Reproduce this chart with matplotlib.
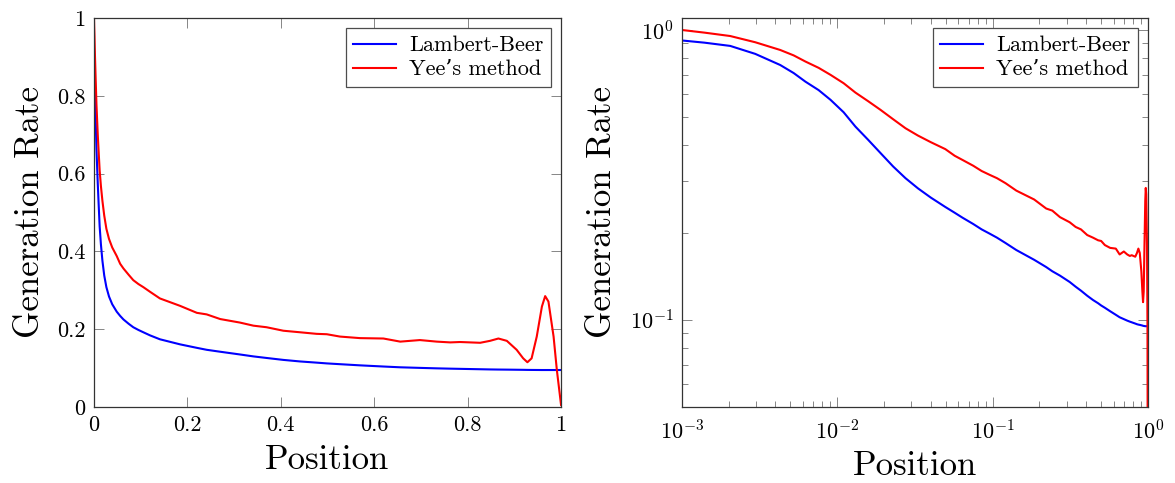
import numpy as np
import matplotlib
matplotlib.use("Agg")
import matplotlib.pyplot as plt
from matplotlib.ticker import LogLocator, NullFormatter, FixedLocator

plt.rcParams["font.family"] = ["cmr10", "DejaVu Serif"]
plt.rcParams["mathtext.fontset"] = "cm"
plt.rcParams["axes.formatter.use_mathtext"] = True

# generation rate profiles along the normalised position
position = [
    0.001, 0.0014, 0.00205, 0.00297, 0.0043, 0.00525, 0.00625, 0.0076,
    0.00906, 0.011, 0.0131, 0.0158, 0.019, 0.0229, 0.0275, 0.0331,
    0.040, 0.0496, 0.057, 0.064, 0.075, 0.085, 0.096, 0.1066, 0.121,
    0.142, 0.185, 0.221, 0.242, 0.271, 0.313, 0.342, 0.370, 0.406,
    0.442, 0.477, 0.499, 0.527, 0.570, 0.620, 0.656, 0.698, 0.734,
    0.763, 0.784, 0.827, 0.848, 0.866, 0.884, 0.905, 0.919, 0.928,
    0.937, 0.948, 0.959, 0.966, 0.973, 0.984, 0.991, 1.0,
]
lambert_beer = [
    0.920, 0.904, 0.881, 0.827, 0.757, 0.710, 0.663, 0.620,
    0.574, 0.520, 0.464, 0.418, 0.376, 0.338, 0.308, 0.284,
    0.264, 0.245, 0.234, 0.225, 0.214, 0.205, 0.198, 0.192, 0.184,
    0.174, 0.161, 0.152, 0.147, 0.142, 0.135, 0.130, 0.126, 0.121,
    0.117, 0.114, 0.112, 0.110, 0.107, 0.104, 0.102, 0.1005, 0.0993,
    0.0985, 0.098, 0.097, 0.0965, 0.0962, 0.096, 0.0957, 0.0955, 0.0953,
    0.0952, 0.0951, 0.095, 0.095, 0.095, 0.095, 0.095, 0.095,
]
yee = [
    1.000, 0.979, 0.953, 0.907, 0.853, 0.817, 0.778, 0.740,
    0.700, 0.655, 0.608, 0.568, 0.530, 0.492, 0.458, 0.432,
    0.410, 0.388, 0.368, 0.356, 0.340, 0.326, 0.316, 0.308, 0.296,
    0.279, 0.260, 0.242, 0.238, 0.226, 0.217, 0.209, 0.205, 0.196,
    0.192, 0.188, 0.187, 0.181, 0.177, 0.176, 0.168, 0.172, 0.168,
    0.166, 0.167, 0.165, 0.170, 0.176, 0.170, 0.147, 0.125, 0.115,
    0.125, 0.181, 0.258, 0.285, 0.271, 0.181, 0.095, 0.005,
]

lin_ticks = [0, 0.2, 0.4, 0.6, 0.8, 1]
lin_labels = ["0", "0.2", "0.4", "0.6", "0.8", "1"]

fig = plt.figure(figsize=(11.75, 4.83), dpi=100)
ax1 = fig.add_axes([0.0796, 0.1574, 0.3979, 0.8054])
ax2 = fig.add_axes([0.5802, 0.1574, 0.3969, 0.8054])

for ax in (ax1, ax2):
    ax.plot(position, lambert_beer, color="#0000ff", lw=1.5, label="Lambert-Beer")
    ax.plot(position, yee, color="#ff0000", lw=1.5, label="Yee\u2019s method")
    ax.set_ylabel("Generation Rate", fontsize=25, labelpad=8)
    ax.tick_params(which="both", direction="in", top=True, right=True,
                   labelsize=16, color="0.45", width=0.6, pad=6)
    ax.tick_params(which="major", length=7)
    ax.tick_params(which="minor", length=4.5)
    for s in ax.spines.values():
        s.set_linewidth(0.9)
        s.set_color("0.2")
    leg = ax.legend(loc="upper right", fontsize=16, fancybox=False,
                    edgecolor="0.3", framealpha=1, handlelength=1.9,
                    borderaxespad=0.45, borderpad=0.35, labelspacing=0.2,
                    handletextpad=0.6)
    leg.get_frame().set_linewidth(0.9)

ax1.set_xlabel("Position", fontsize=25, labelpad=7)
ax2.set_xlabel("Position", fontsize=25, labelpad=5)

ax1.set_xlim(0, 1)
ax1.set_ylim(0, 1)
ax1.set_xticks(lin_ticks)
ax1.set_xticklabels(lin_labels)
ax1.set_yticks(lin_ticks)
ax1.set_yticklabels(lin_labels)

ax2.set_xscale("log")
ax2.set_yscale("log")
ax2.set_xlim(1e-3, 1.0)
ax2.set_ylim(0.05, 1.1)
ax2.xaxis.set_major_locator(FixedLocator([1e-3, 1e-2, 1e-1, 1e0]))
ax2.xaxis.set_minor_locator(LogLocator(base=10, subs=np.arange(2, 10), numticks=20))
ax2.yaxis.set_major_locator(FixedLocator([1e-1, 1e0]))
ax2.yaxis.set_minor_locator(LogLocator(base=10, subs=np.arange(2, 10), numticks=20))
ax2.xaxis.set_minor_formatter(NullFormatter())
ax2.yaxis.set_minor_formatter(NullFormatter())
ax2.tick_params(axis="x", pad=9)

fig.savefig("out.png", dpi=100)
